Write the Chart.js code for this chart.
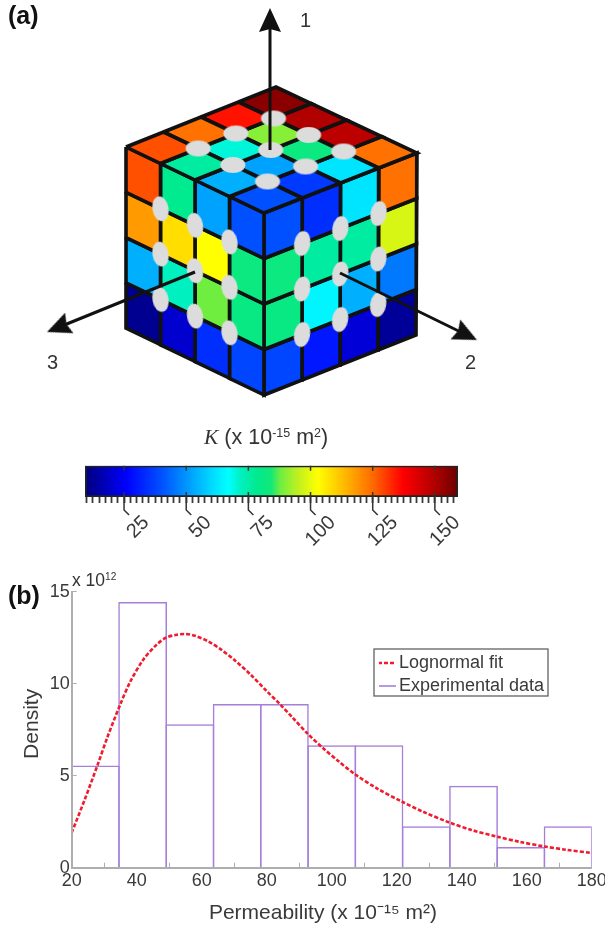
<!DOCTYPE html>
<html>
<head>
<meta charset="utf-8">
<script src="https://cdn.jsdelivr.net/npm/chart.js@4/dist/chart.umd.js"></script>
<style>
html, body { margin: 0; padding: 0; background: #fff; overflow: hidden; }
#page { position: relative; width: 605px; height: 930px; font-family: "Liberation Sans", Arial, sans-serif; color: #333; filter: blur(0.5px); }
canvas { position: absolute; }
.t { position: absolute; white-space: nowrap; line-height: 1; }
sup { font-size: 58%; vertical-align: baseline; position: relative; top: -0.6em; }
</style>
</head>
<body>
<div id="page">
  <canvas id="cube" style="left:0;top:0"></canvas>
  <canvas id="bar" style="left:60px;top:455px"></canvas>
  <canvas id="hist" style="left:0;top:570px"></canvas>
  <div class="t" style="left:8px;top:3px;font-size:25px;font-weight:bold;color:#111">(a)</div>
  <div class="t" style="left:8px;top:583px;font-size:25px;font-weight:bold;color:#111">(b)</div>
  <div class="t" style="left:300px;top:10px;font-size:20px">1</div>
  <div class="t" style="left:47px;top:352px;font-size:20px">3</div>
  <div class="t" style="left:465px;top:352px;font-size:20px">2</div>
  <div class="t" style="left:204px;top:427px;font-size:21.5px"><span style="font-family:'Liberation Serif',serif;font-style:italic">K</span> (x 10<sup>-15</sup> m<sup>2</sup>)</div>
  <div class="t" style="left:72px;top:572px;font-size:17.5px">x 10<sup>12</sup></div>
</div>
<script>
// permeability of each cell, rows top to bottom
const leftFaceK = [
    [128, 78, 52, 40],
    [118, 108, 103, 82],
    [54, 72, 88, 81],
    [12, 20, 34, 38]
];
const rightFaceK = [
    [40, 34, 62, 124],
    [82, 76, 76, 98],
    [81, 65, 54, 46],
    [38, 30, 21, 13]
];
const topFaceK = [
    [128, 124, 135, 155],
    [76, 70, 90, 150],
    [54, 52, 82, 148],
    [40, 36, 62, 124]
];

// colour scale
const colorK = [9.3, 12, 26, 40, 54, 62, 67, 72, 78, 84, 88, 95, 103, 115, 125, 137, 150, 159.3];
const colorHex = ['#00007f', '#000090', '#0000ff', '#0050ff', '#00b0ff', '#00e5ff', '#00ffff', '#00f0c0', '#00ea90',
    '#10e878', '#70ee40', '#c0f020', '#ffff00', '#ffb000', '#ff6a00', '#ff0000', '#b00000', '#6a0000'];
const barTicks = [10, 12.5, 15, 17.5, 20, 22.5, 25, 27.5, 30, 32.5, 35, 37.5, 40, 42.5, 45, 47.5, 50, 52.5, 55, 57.5,
    60, 62.5, 65, 67.5, 70, 72.5, 75, 77.5, 80, 82.5, 85, 87.5, 90, 92.5, 95, 97.5, 100, 102.5, 105, 107.5, 110, 112.5,
    115, 117.5, 120, 122.5, 125, 127.5, 130, 132.5, 135, 137.5, 140, 142.5, 145, 147.5, 150, 152.5, 155, 157.5];
const barLabels = [25, 50, 75, 100, 125, 150];

// histogram and fit
const binCenters = [27.27, 41.82, 56.36, 70.91, 85.45, 100, 114.55, 129.09, 143.64, 158.18, 172.73];
const binHeights = [5.55, 14.44, 7.8, 8.9, 8.9, 6.65, 6.65, 2.25, 4.45, 1.13, 2.25];
const fitX = [20, 24, 28, 31, 35, 38, 42, 46, 49, 52, 55, 58, 62, 66, 70, 75, 80, 84, 88, 92.5, 97, 102, 107, 114, 121.5, 128, 136, 143, 151, 158, 165.5, 172, 180];
const fitY = [1.9, 3.7, 5.6, 7.1, 8.9, 10.1, 11.3, 12.1, 12.5, 12.65, 12.7, 12.6, 12.3, 11.85, 11.3, 10.5, 9.6, 8.9, 8.15, 7.3, 6.55, 5.8, 5.1, 4.3, 3.6, 3.05, 2.47, 2.05, 1.68, 1.4, 1.15, 0.98, 0.8];

const inkColor = '#111';
const textColor = '#3a3a3a';
const axisGray = '#aeaeae';
const fitColor = '#ee1c2e';
const binColor = '#a57fd8';
const textFont = '"Liberation Sans", Arial, sans-serif';

function hexToRgb(h) {
    return [parseInt(h.slice(1, 3), 16), parseInt(h.slice(3, 5), 16), parseInt(h.slice(5, 7), 16)];
}

function colorFor(k) {
    let i = 0;
    while (i < colorK.length - 2 && k > colorK[i + 1]) i++;
    const f = Math.min(1, Math.max(0, (k - colorK[i]) / (colorK[i + 1] - colorK[i])));
    const a = hexToRgb(colorHex[i]);
    const b = hexToRgb(colorHex[i + 1]);
    const c = a.map((v, n) => Math.round(v + (b[n] - v) * f));
    return `rgb(${c[0]},${c[1]},${c[2]})`;
}

// --- cube (a) ---
// corners of the drawing in page units, the cells are placed by grid index between them
const L = [126, 147], B = [276, 87], R = [417, 153], F = [264, 213];
const LB = [126, 328], RB = [416, 335], D = [264, 395];
const faces = [
    { k: topFaceK, c: [L, B, F, R], ellipseAngle: 0 },
    { k: leftFaceK, c: [L, F, LB, D], ellipseAngle: 80 },
    { k: rightFaceK, c: [F, R, D, RB], ellipseAngle: 100 }
];

function facePoint(c, s, t) {
    const u = s / 4, v = t / 4;
    const x = (1 - v) * ((1 - u) * c[0][0] + u * c[1][0]) + v * ((1 - u) * c[2][0] + u * c[3][0]);
    const y = (1 - v) * ((1 - u) * c[0][1] + u * c[1][1]) + v * ((1 - u) * c[2][1] + u * c[3][1]);
    return { x, y };
}

function ellipseImage() {
    const c = document.createElement('canvas');
    c.width = 30; c.height = 30;
    const g = c.getContext('2d');
    g.fillStyle = '#dcdcdc';
    g.beginPath();
    g.ellipse(15, 15, 12.5, 8, 0, 0, Math.PI * 2);
    g.fill();
    return c;
}

function arrowImage() {
    // tip in the middle of the image so the point sits on the tip
    const c = document.createElement('canvas');
    c.width = 60; c.height = 60;
    const g = c.getContext('2d');
    g.fillStyle = inkColor;
    g.beginPath();
    g.moveTo(30, 30);
    g.lineTo(41, 54);
    g.lineTo(30, 51);
    g.lineTo(19, 54);
    g.closePath();
    g.fill();
    return c;
}

function legendLine(color, dash, width) {
    const c = document.createElement('canvas');
    c.width = 18; c.height = 6;
    const g = c.getContext('2d');
    g.strokeStyle = color;
    g.lineWidth = width;
    g.setLineDash(dash);
    g.beginPath();
    g.moveTo(0, 3);
    g.lineTo(18, 3);
    g.stroke();
    return c;
}

const arrows = [
    { from: [270, 150], tip: [270, 8] },
    { from: [340, 273], tip: [477, 340] },
    { from: [195, 272], tip: [47, 332] }
];

const cubeDatasets = [];
const ellipseImg = ellipseImage();
const arrowImg = arrowImage();

arrows.forEach(a => {
    const dx = a.tip[0] - a.from[0], dy = a.tip[1] - a.from[1];
    const len = Math.hypot(dx, dy);
    cubeDatasets.push({
        data: [{ x: a.from[0], y: a.from[1] }, { x: a.tip[0] - dx / len * 12, y: a.tip[1] - dy / len * 12 }],
        showLine: true, borderColor: inkColor, borderWidth: 3, pointRadius: 0, order: 0
    });
    cubeDatasets.push({
        data: [{ x: a.tip[0], y: a.tip[1] }],
        pointStyle: arrowImg, pointRadius: 5, pointRotation: Math.atan2(dx, -dy) * 180 / Math.PI, order: 0
    });
});

faces.forEach(f => {
    const pts = [];
    for (let s = 1; s < 4; s++) for (let t = 1; t < 4; t++) pts.push(facePoint(f.c, s, t));
    cubeDatasets.push({
        data: pts, pointStyle: ellipseImg, pointRadius: 5, pointRotation: f.ellipseAngle, order: 1
    });
    f.k.forEach((row, t) => row.forEach((k, s) => {
        cubeDatasets.push({
            data: [facePoint(f.c, s, t), facePoint(f.c, s + 1, t), facePoint(f.c, s + 1, t + 1), facePoint(f.c, s, t + 1), facePoint(f.c, s, t)],
            showLine: true, fill: 'shape', backgroundColor: colorFor(k), borderColor: inkColor,
            borderWidth: 3.6, borderJoinStyle: 'miter', pointRadius: 0, tension: 0, order: 2
        });
    }));
});

document.getElementById('cube').width = 605;
document.getElementById('cube').height = 420;
new Chart(document.getElementById('cube'), {
    type: 'scatter',
    data: { datasets: cubeDatasets },
    options: {
        responsive: false,
        animation: false,
        clip: false,
        layout: { padding: 0, autoPadding: false },
        plugins: { legend: { display: false }, tooltip: { enabled: false } },
        scales: {
            x: { type: 'linear', min: 0, max: 605, display: false },
            y: { type: 'linear', min: 0, max: 420, reverse: true, display: false }
        }
    }
});

// --- colour bar ---
const barTickHooks = {
    id: 'barTickHooks',
    afterDraw(chart) {
        const ctx = chart.ctx, x = chart.scales.x, area = chart.chartArea;
        ctx.save();
        ctx.strokeStyle = '#333';
        ctx.lineWidth = 1.5;
        barLabels.forEach(v => {
            const px = x.getPixelForValue(v);
            ctx.beginPath();
            ctx.moveTo(px, area.top);
            ctx.lineTo(px, area.top + 5);
            ctx.moveTo(px, area.bottom - 5);
            ctx.lineTo(px, area.bottom + 13);
            ctx.lineTo(px + 5, area.bottom + 18);
            ctx.stroke();
        });
        ctx.restore();
    }
};

document.getElementById('bar').width = 430;
document.getElementById('bar').height = 100;
new Chart(document.getElementById('bar'), {
    type: 'bar',
    data: {
        labels: ['K'],
        datasets: [{
            data: [[colorK[0], colorK[colorK.length - 1]]],
            backgroundColor(context) {
                const chart = context.chart;
                if (!chart.chartArea) return colorHex[0];
                const x = chart.scales.x;
                const lo = colorK[0], hi = colorK[colorK.length - 1];
                const grad = chart.ctx.createLinearGradient(x.getPixelForValue(lo), 0, x.getPixelForValue(hi), 0);
                colorK.forEach((k, i) => grad.addColorStop((k - lo) / (hi - lo), colorHex[i]));
                return grad;
            },
            borderColor: '#222',
            borderWidth: 2,
            borderSkipped: false,
            barPercentage: 1,
            categoryPercentage: 1
        }]
    },
    options: {
        indexAxis: 'y',
        responsive: false,
        animation: false,
        layout: { padding: { left: 25, right: 32, top: 10.7, bottom: 0 } },
        plugins: { legend: { display: false }, tooltip: { enabled: false } },
        scales: {
            y: { display: false },
            x: {
                type: 'linear',
                min: colorK[0],
                max: colorK[colorK.length - 1],
                grid: { drawOnChartArea: false, tickLength: 6, tickColor: '#3a3a3a', tickWidth: 1.8 },
                border: { display: false },
                afterBuildTicks(scale) {
                    scale.ticks = barTicks.map(v => ({ value: v }));
                },
                afterFit(scale) {
                    scale.height = 58;
                    scale.paddingLeft = 0;
                    scale.paddingRight = 0;
                },
                ticks: {
                    autoSkip: false,
                    minRotation: 45,
                    maxRotation: 45,
                    padding: 8,
                    labelOffset: 22,
                    color: textColor,
                    font: { family: textFont, size: 20 },
                    callback: v => (barLabels.includes(v) ? String(v) : '')
                }
            }
        }
    },
    plugins: [barTickHooks]
});

// --- histogram (b) ---
const legendFrame = { left: 374, top: 79, right: 548, bottom: 126 };
const placeLegend = {
    id: 'placeLegend',
    afterLayout(chart) {
        // the box is a bit taller than the frame so both rows stay in one column
        const box = { left: 379, top: 79, right: 600, bottom: 170 };
        Object.assign(chart.legend, box);
        chart.legend.width = box.right - box.left;
        chart.legend.height = box.bottom - box.top;
    },
    afterDraw(chart) {
        const ctx = chart.ctx;
        ctx.save();
        ctx.strokeStyle = '#555';
        ctx.lineWidth = 1.2;
        ctx.strokeRect(legendFrame.left, legendFrame.top, legendFrame.right - legendFrame.left, legendFrame.bottom - legendFrame.top);
        ctx.restore();
    }
};

document.getElementById('hist').width = 605;
document.getElementById('hist').height = 360;
new Chart(document.getElementById('hist'), {
    data: {
        datasets: [
            {
                type: 'line',
                label: 'Lognormal fit',
                data: fitX.map((x, i) => ({ x, y: fitY[i] })),
                borderColor: fitColor,
                backgroundColor: fitColor,
                borderWidth: 2.6,
                borderDash: [4, 2],
                pointRadius: 0,
                tension: 0.3,
                order: 0
            },
            {
                type: 'bar',
                label: 'Experimental data',
                data: binCenters.map((x, i) => ({ x, y: binHeights[i] })),
                backgroundColor: 'rgba(0,0,0,0)',
                borderColor: binColor,
                borderWidth: 1.5,
                // border is drawn inside the bar, widen so neighbours share one edge
                barPercentage: 1.032,
                categoryPercentage: 1,
                order: 1
            }
        ]
    },
    options: {
        responsive: false,
        animation: false,
        layout: { padding: { left: 0, right: 13.3, top: 21.7, bottom: 0 } },
        plugins: {
            tooltip: { enabled: false },
            legend: {
                position: 'chartArea',
                align: 'start',
                labels: {
                    usePointStyle: true,
                    pointStyleWidth: 6,
                    padding: 5,
                    color: textColor,
                    font: { family: textFont, size: 18 },
                    generateLabels(chart) {
                        return [
                            { text: chart.data.datasets[0].label, datasetIndex: 0, pointStyle: legendLine(fitColor, [4, 2], 2.4), fontColor: textColor },
                            { text: chart.data.datasets[1].label, datasetIndex: 1, pointStyle: legendLine(binColor, [], 1.6), fontColor: textColor }
                        ];
                    }
                }
            }
        },
        scales: {
            x: {
                type: 'linear',
                min: 20,
                max: 180,
                offset: false,
                grid: { drawOnChartArea: false, tickLength: -5, tickColor: axisGray },
                border: { color: axisGray, width: 2, z: 2 },
                afterFit(scale) {
                    scale.height = 62.3;
                    scale.paddingLeft = 0;
                    scale.paddingRight = 0;
                },
                ticks: {
                    stepSize: 20,
                    maxRotation: 0,
                    padding: 8,
                    color: textColor,
                    font: { family: textFont, size: 18 }
                },
                title: {
                    display: true,
                    // trailing spaces move the centred title left onto its place in the picture
                    text: 'Permeability (x 10⁻¹⁵ m²)\u00a0\u00a0\u00a0',
                    color: textColor,
                    font: { family: textFont, size: 21 },
                    padding: { top: 7 }
                }
            },
            y: {
                type: 'linear',
                min: 0,
                max: 15,
                grid: { drawOnChartArea: false, tickLength: -5, tickColor: axisGray },
                border: { color: axisGray, width: 2, z: 2 },
                afterFit(scale) {
                    scale.width = 71.7;
                },
                ticks: {
                    stepSize: 5,
                    padding: 7,
                    color: textColor,
                    font: { family: textFont, size: 18 }
                },
                title: {
                    display: true,
                    text: '\u00a0\u00a0Density',
                    color: textColor,
                    font: { family: textFont, size: 21 },
                    padding: { top: 20, bottom: 0 }
                }
            }
        }
    },
    plugins: [placeLegend]
});
</script>
</body>
</html>
